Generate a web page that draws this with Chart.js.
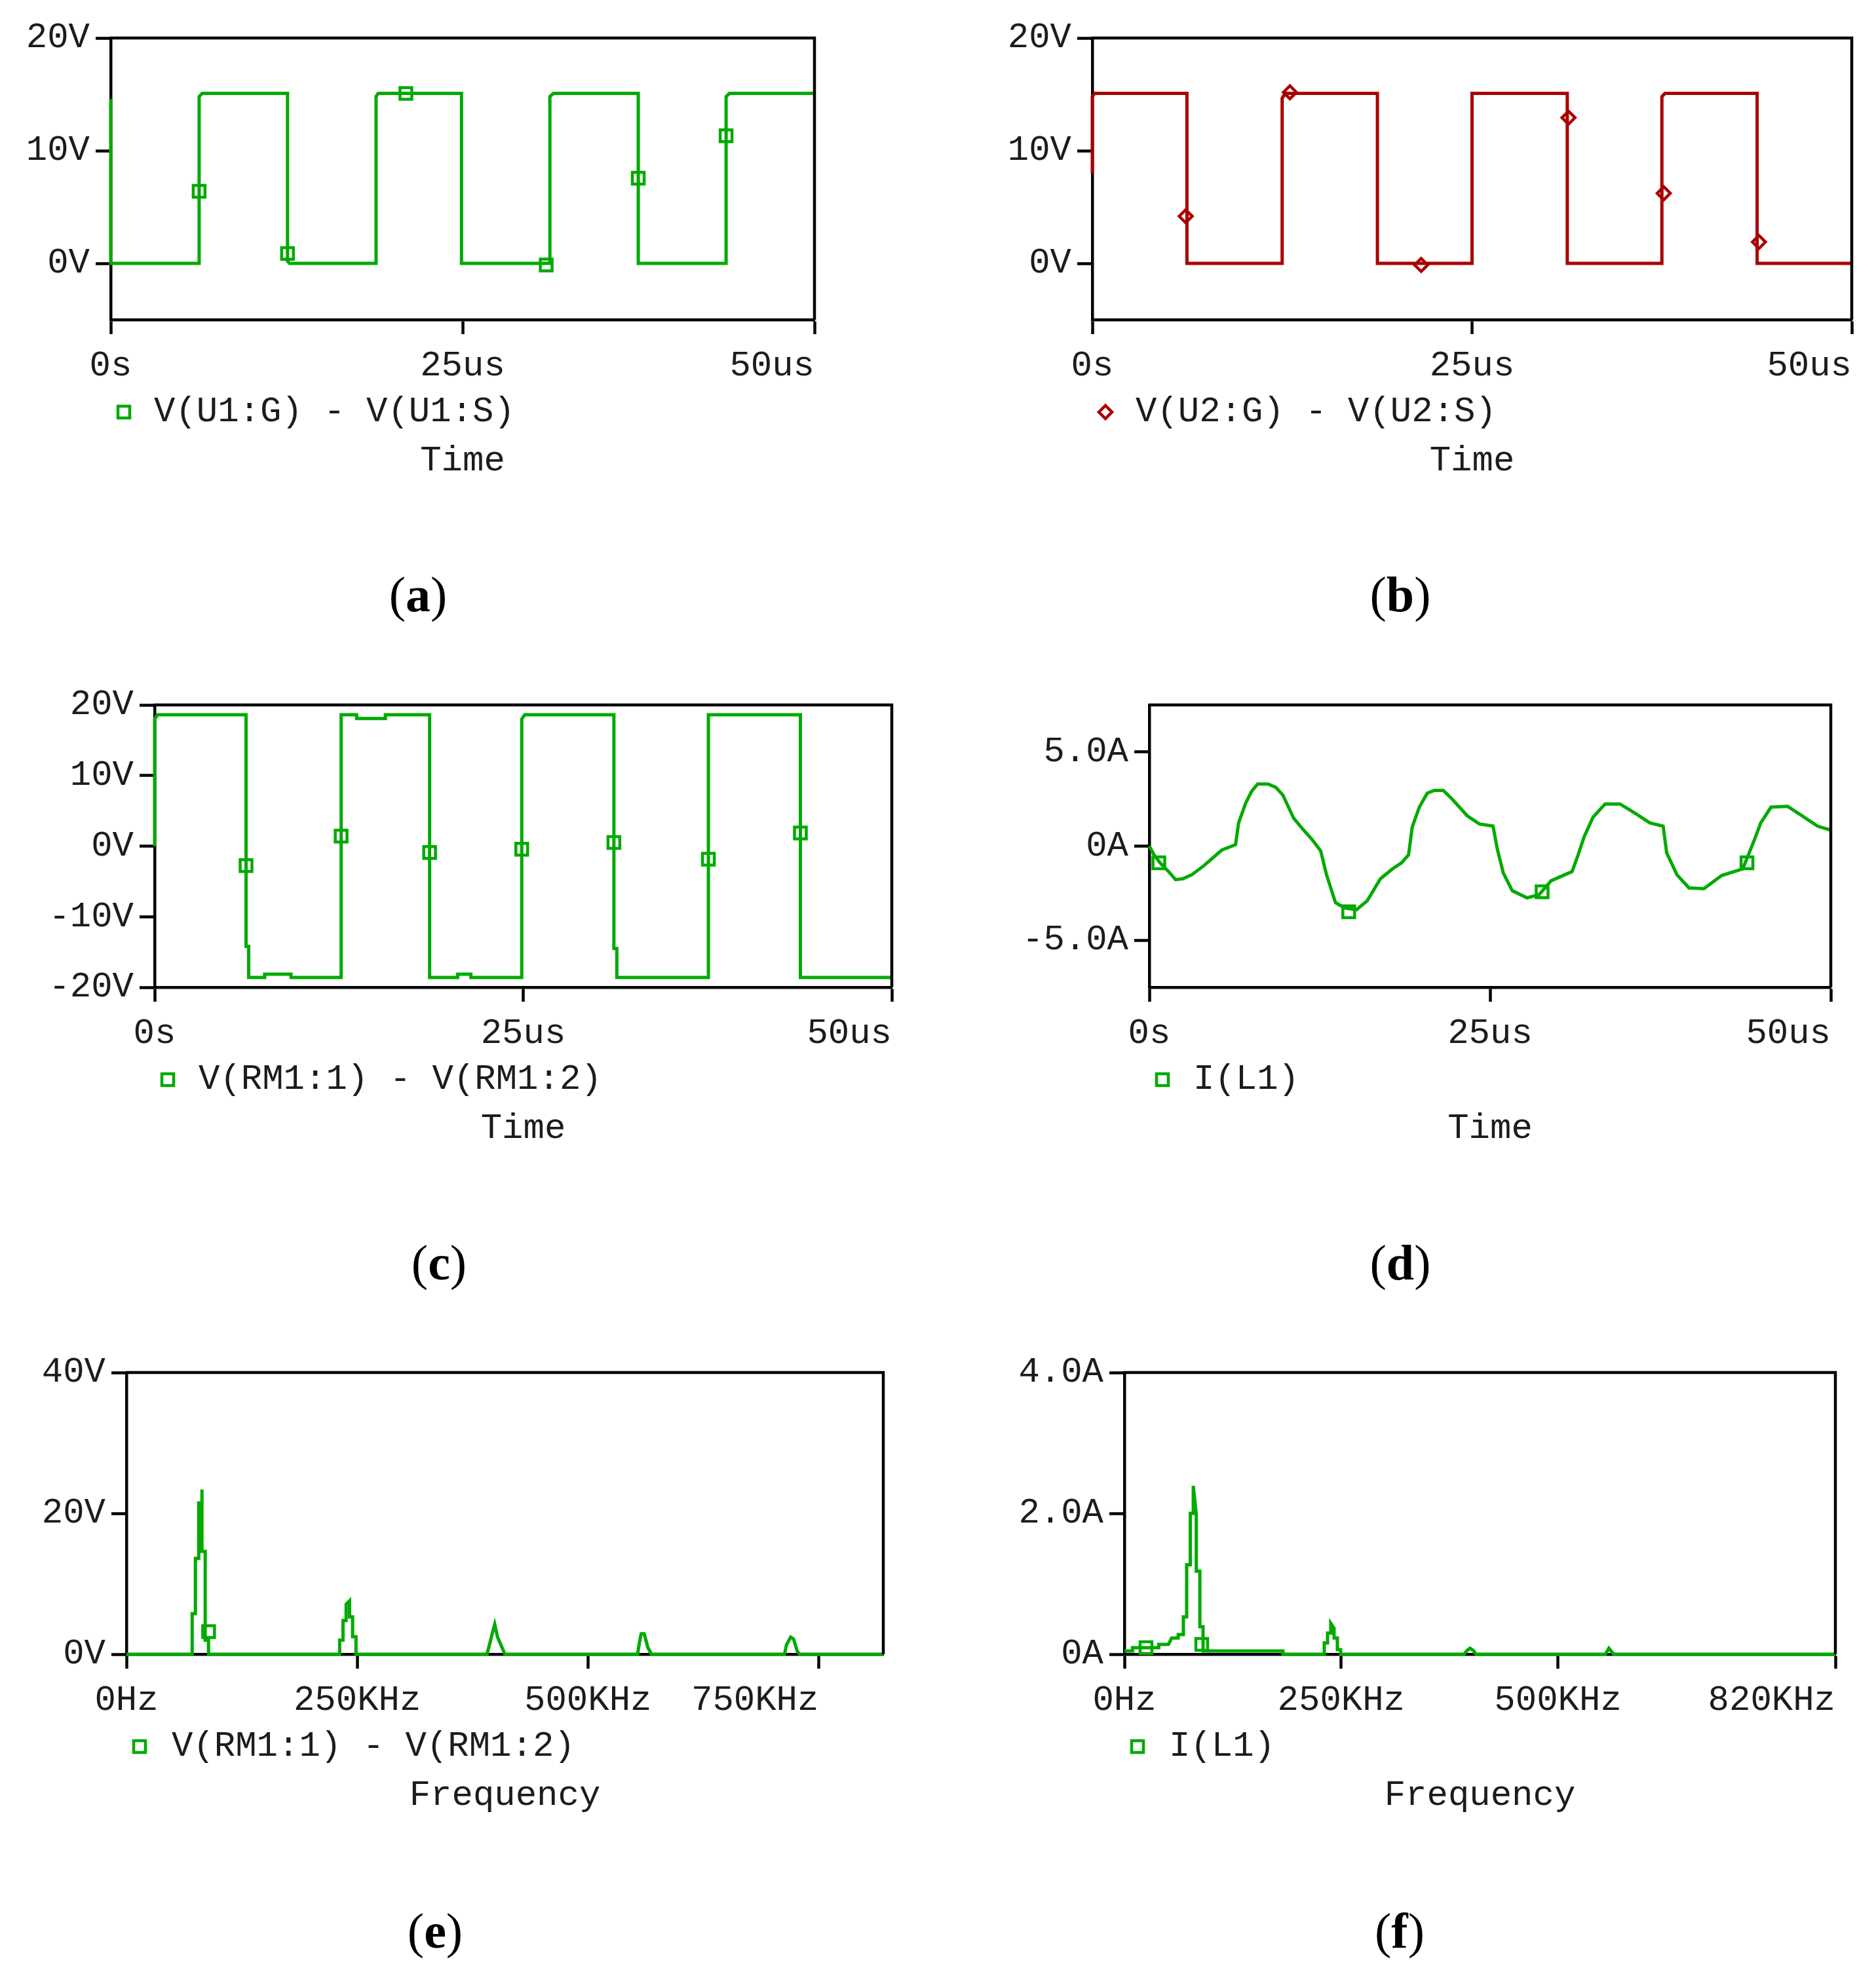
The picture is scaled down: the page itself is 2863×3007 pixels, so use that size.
<!DOCTYPE html>
<html lang="en">

<head>
    <meta charset="UTF-8">
    <title>PSpice waveforms</title>
    <script src="https://cdn.jsdelivr.net/npm/chart.js"></script>
    <style>
        html, body { margin: 0; padding: 0; background: #fff; }
        #page { position: relative; width: 2863px; height: 3007px; overflow: hidden; }
        canvas { position: absolute; }
        .cap {
            position: absolute;
            transform: translate(-50%, -50%);
            font: 76px "Liberation Serif", serif;
            color: #000;
            line-height: 1;
        }
    </style>
</head>

<body>
    <div id="page"></div>

    <script>
        // (a) V(U1:G) - V(U1:S)
        const aTime = [0, 0, 6.28, 6.28, 6.5, 12.56, 12.56, 12.7, 18.85, 18.85, 19, 24.92, 24.92, 31.2, 31.2, 31.45, 37.48, 37.48, 43.72, 43.72, 43.95, 50];
        const aVolt = [14.6, 0, 0, 14.8, 15.08, 15.08, 0.2, 0, 0, 14.8, 15.08, 15.08, 0, 0, 14.8, 15.08, 15.08, 0, 0, 14.8, 15.08, 15.08];
        const aMarkTime = [6.28, 12.56, 20.97, 30.94, 37.48, 43.72];
        const aMarkVolt = [6.4, 0.88, 15.08, -0.14, 7.56, 11.32];

        // (b) V(U2:G) - V(U2:S)
        const bTime = [0, 0, 0.15, 6.23, 6.23, 12.5, 12.5, 12.7, 18.77, 18.77, 25, 25, 31.27, 31.27, 37.5, 37.5, 37.7, 43.77, 43.77, 50];
        const bVolt = [8, 14.8, 15.08, 15.08, 0, 0, 14.66, 15.08, 15.08, 0, 0, 15.08, 15.08, 0, 0, 14.8, 15.08, 15.08, 0, 0];
        const bMarkTime = [6.15, 13.01, 21.65, 31.35, 37.62, 43.89];
        const bMarkVolt = [4.18, 15.18, -0.14, 12.93, 6.22, 1.9];

        // (c) V(RM1:1) - V(RM1:2)
        const cTime = [0, 0, 0.2, 6.2, 6.2, 6.38, 6.38, 7.46, 7.46, 9.25, 9.25, 12.65, 12.65, 13.7, 13.7, 15.65, 15.65, 18.65, 18.65, 20.55, 20.55, 21.45, 21.45, 24.9, 24.9, 25.1, 31.15, 31.15, 31.35, 31.35, 37.56, 37.56, 43.8, 43.8, 50];
        const cVolt = [0, 18, 18.6, 18.6, -14.2, -14.2, -18.6, -18.6, -18.15, -18.15, -18.6, -18.6, 18.6, 18.6, 18.08, 18.08, 18.6, 18.6, -18.6, -18.6, -18.15, -18.15, -18.6, -18.6, 18, 18.6, 18.6, -14.5, -14.5, -18.6, -18.6, 18.6, 18.6, -18.6, -18.6];
        const cMarkTime = [6.2, 12.65, 18.65, 24.9, 31.15, 37.56, 43.8];
        const cMarkVolt = [-2.76, 1.41, -0.9, -0.45, 0.51, -1.86, 1.86];

        // (d) I(L1)
        const dTime = [0, 0.35, 0.79, 1.36, 1.93, 2.46, 3.12, 4, 5.32, 6.33, 6.55, 7.07, 7.51, 7.95, 8.7, 9.27, 9.8, 10.59, 11.25, 11.91, 12.57, 13, 13.66, 14.32, 15.2, 15.99, 16.96, 17.84, 18.5, 19.02, 19.29, 19.81, 20.39, 20.91, 21.57, 22.23, 23.33, 24.21, 25.22, 25.53, 25.97, 26.63, 27.72, 28.6, 29.48, 31.02, 31.46, 31.9, 32.56, 33.44, 34.53, 35.63, 36.73, 37.7, 37.96, 38.71, 39.59, 40.69, 42, 43.54, 44.42, 44.86, 45.61, 46.84, 47.72, 49.03, 50];
        const dAmp = [0, -0.47, -0.89, -1.31, -1.78, -1.73, -1.52, -1.04, -0.21, 0.08, 1.23, 2.28, 2.92, 3.3, 3.3, 3.13, 2.71, 1.48, 0.91, 0.38, -0.25, -1.52, -3, -3.28, -3.38, -2.9, -1.73, -1.21, -0.89, -0.47, 1.01, 2.07, 2.81, 2.96, 2.96, 2.49, 1.61, 1.18, 1.06, -0.15, -1.42, -2.37, -2.75, -2.58, -1.84, -1.35, -0.47, 0.49, 1.54, 2.24, 2.24, 1.75, 1.23, 1.06, -0.36, -1.52, -2.22, -2.26, -1.56, -1.21, 0.38, 1.23, 2.07, 2.11, 1.69, 1.06, 0.85];
        const dMarkTime = [0.7, 14.63, 28.82, 43.85];
        const dMarkAmp = [-0.89, -3.49, -2.43, -0.89];

        // (e) spectrum of V(RM1:1) - V(RM1:2)
        const eFreq = [0, 71.2, 71.2, 74.7, 74.7, 78.3, 78.3, 81.8, 81.8, 81.8, 85.3, 85.3, 88.9, 88.9, 231, 231, 234.6, 234.6, 238, 238, 241.7, 241.7, 245, 245, 248.7, 248.7, 390.6, 393.8, 397, 399, 402, 406.8, 410, 553.8, 555.7, 557.7, 561, 564.8, 568.7, 713, 715, 719.6, 722.8, 726.7, 729.3, 820];
        const eVolt = [0, 0, 5.76, 5.76, 13.6, 13.6, 21.5, 21.5, 23.4, 14.6, 14.6, 2, 2, 0, 0, 2, 2, 4.8, 4.8, 7.1, 7.6, 5.3, 5.3, 2.5, 2.5, 0, 0, 1.6, 3.3, 4.26, 2.44, 1, 0, 0, 1.6, 2.9, 2.9, 1, 0, 0, 1.3, 2.44, 2.16, 0.45, 0, 0];
        const eMarkFreq = [89];
        const eMarkVolt = [3.2];

        // (f) spectrum of I(L1)
        const fFreq = [0, 9.3, 9.3, 39.6, 39.6, 50.8, 54.5, 62, 62, 68, 68, 71.8, 71.8, 76, 76, 79.4, 79.4, 82.9, 82.9, 87, 87, 90.7, 90.7, 182.9, 182.9, 230.5, 230.5, 234.3, 234.3, 238, 238, 241.8, 241.8, 245.6, 245.6, 249.4, 249.4, 391.7, 395, 398.6, 402.7, 405.5, 554.7, 558.8, 564.4, 820];
        const fAmp = [0.047, 0.047, 0.093, 0.093, 0.14, 0.14, 0.23, 0.23, 0.28, 0.28, 0.53, 0.53, 1.27, 1.27, 2, 2, 2.39, 1.98, 1.18, 1.18, 0.39, 0.39, 0.047, 0.047, 0, 0, 0.16, 0.16, 0.3, 0.3, 0.44, 0.37, 0.23, 0.23, 0.065, 0.065, 0, 0, 0.05, 0.085, 0.05, 0, 0, 0.085, 0, 0];
        const fMarkFreq = [24.9, 89.2];
        const fMarkAmp = [0.093, 0.14];

        // axis ticks
        const timeTicks = [0, 25, 50];
        const timeLabels = ['0s', '25us', '50us'];
        const gateTicks = [0, 10, 20];
        const gateLabels = ['0V', '10V', '20V'];
        const rmTicks = [-20, -10, 0, 10, 20];
        const rmLabels = ['-20V', '-10V', '0V', '10V', '20V'];
        const coilTicks = [-5, 0, 5];
        const coilLabels = ['-5.0A', '0A', '5.0A'];
        const eFreqTicks = [0, 250, 500, 750];
        const eFreqLabels = ['0Hz', '250KHz', '500KHz', '750KHz'];
        const fFreqTicks = [0, 250, 500, 820];
        const fFreqLabels = ['0Hz', '250KHz', '500KHz', '820KHz'];
        const eAmpTicks = [0, 20, 40];
        const eAmpLabels = ['0V', '20V', '40V'];
        const fAmpTicks = [0, 2, 4];
        const fAmpLabels = ['0A', '2.0A', '4.0A'];

        const GREEN = '#00aa00';
        const RED = '#aa0000';
        const INK = '#1c1c1c';
        const MONO = '"Liberation Mono", monospace';
        const FONT_SIZE = 54;
        const AXIS_BOX = 270;

        const page = document.getElementById('page');

        // frame, last tick label flush right, and the little legend under the axis
        const panelPlugin = {
            id: 'panel',
            beforeDraw(chart, args, opts) {
                const items = chart.scales.x.getLabelItems(chart.chartArea);
                items[items.length - 1].options.textAlign = 'right';
            },
            afterDatasetsDraw(chart, args, opts) {
                const { ctx, chartArea } = chart;
                ctx.save();
                ctx.strokeStyle = '#000';
                ctx.lineWidth = 4.5;
                ctx.beginPath();
                ctx.moveTo(chartArea.left, chartArea.top);
                ctx.lineTo(chartArea.right, chartArea.top);
                ctx.lineTo(chartArea.right, chartArea.bottom);
                ctx.stroke();
                ctx.restore();
            },
            afterDraw(chart, args, opts) {
                const { ctx, chartArea } = chart;
                const y = chartArea.bottom + opts.legendDy;
                ctx.save();
                ctx.strokeStyle = opts.color;
                ctx.fillStyle = 'rgba(0,0,0,0)';
                ctx.lineWidth = 4.5;
                Chart.helpers.drawPoint(ctx, { pointStyle: opts.marker, radius: opts.markerSize, borderWidth: 4.5, rotation: 0 }, chartArea.left + 20, y);
                ctx.fillStyle = INK;
                ctx.font = FONT_SIZE + 'px ' + MONO;
                ctx.textBaseline = 'middle';
                ctx.textAlign = 'left';
                ctx.fillText(opts.text, chartArea.left + opts.textDx, y);
                ctx.restore();
            }
        };

        function pairs(xs, ys) {
            return xs.map((x, i) => ({ x: x, y: ys[i] }));
        }

        function makePanel(p) {
            const canvas = document.createElement('canvas');
            canvas.width = p.cw;
            canvas.height = p.bottom - p.cy + AXIS_BOX;
            canvas.style.left = p.cx + 'px';
            canvas.style.top = p.cy + 'px';
            page.appendChild(canvas);

            const cap = document.createElement('div');
            cap.className = 'cap';
            cap.innerHTML = '(<b>' + p.letter + '</b>)';
            cap.style.left = p.capX + 'px';
            cap.style.top = p.capY + 'px';
            page.appendChild(cap);

            new Chart(canvas.getContext('2d'), {
                type: 'line',
                plugins: [panelPlugin],
                data: {
                    datasets: [
                        {
                            data: pairs(p.xs, p.ys),
                            borderColor: p.color,
                            borderWidth: 5,
                            borderJoinStyle: 'miter',
                            tension: 0,
                            pointRadius: 0,
                            clip: false,
                            order: 2
                        },
                        {
                            data: pairs(p.markXs, p.markYs),
                            showLine: false,
                            pointStyle: p.marker,
                            pointRadius: p.markerSize,
                            pointBorderWidth: 4.5,
                            pointBorderColor: p.color,
                            pointBackgroundColor: 'rgba(0,0,0,0)',
                            clip: false,
                            order: 1
                        }
                    ]
                },
                options: {
                    responsive: false,
                    animation: false,
                    devicePixelRatio: 1,
                    layout: { padding: { left: 0, top: p.top - p.cy, right: p.cx + p.cw - p.right, bottom: 0 } },
                    plugins: {
                        legend: { display: false },
                        tooltip: { enabled: false },
                        panel: { text: p.legend, color: p.color, marker: p.marker, markerSize: p.markerSize, legendDy: 141, textDx: p.textDx }
                    },
                    scales: {
                        x: {
                            type: 'linear',
                            min: p.xMin,
                            max: p.xMax,
                            afterBuildTicks: s => { s.ticks = p.xTicks.map(v => ({ value: v })); },
                            afterFit: s => { s.height = AXIS_BOX; s.paddingLeft = 0; s.paddingRight = 0; },
                            grid: { drawOnChartArea: false, color: '#000', tickLength: 22, tickWidth: 4.5, tickColor: '#000' },
                            border: { color: '#000', width: 4.5 },
                            ticks: {
                                autoSkip: false,
                                maxRotation: 0,
                                padding: 16,
                                color: INK,
                                font: { family: MONO, size: FONT_SIZE, lineHeight: 1.2 },
                                callback: (v, i) => p.xLabels[i]
                            },
                            title: {
                                display: true,
                                text: p.xTitle,
                                color: INK,
                                font: { family: MONO, size: FONT_SIZE, lineHeight: 1.2 },
                                padding: { top: 0, bottom: AXIS_BOX - 32 - 216 }
                            }
                        },
                        y: {
                            type: 'linear',
                            min: p.yMin,
                            max: p.yMax,
                            afterBuildTicks: s => { s.ticks = p.yTicks.map(v => ({ value: v })); },
                            afterFit: s => { s.width = p.left - p.cx; s.paddingTop = 0; s.paddingBottom = 0; },
                            grid: { drawOnChartArea: false, color: '#000', tickLength: 23, tickWidth: 4.5, tickColor: '#000' },
                            border: { color: '#000', width: 4.5 },
                            ticks: {
                                autoSkip: false,
                                padding: 9,
                                color: INK,
                                font: { family: MONO, size: FONT_SIZE, lineHeight: 1.2 },
                                callback: (v, i) => p.yLabels[i]
                            }
                        }
                    }
                }
            });
        }

        makePanel({
            letter: 'a', cx: 0, cy: 0, cw: 1430, left: 169, right: 1243, top: 58, bottom: 488, capX: 638, capY: 907,
            xs: aTime, ys: aVolt, markXs: aMarkTime, markYs: aMarkVolt, color: GREEN, marker: 'rect', markerSize: 12.7,
            xMin: 0, xMax: 50, yMin: -5, yMax: 20, xTicks: timeTicks, xLabels: timeLabels, yTicks: gateTicks, yLabels: gateLabels,
            legend: 'V(U1:G) - V(U1:S)', textDx: 66, xTitle: 'Time'
        });
        makePanel({
            letter: 'b', cx: 1430, cy: 0, cw: 1433, left: 1667, right: 2826, top: 58, bottom: 488, capX: 2137, capY: 907,
            xs: bTime, ys: bVolt, markXs: bMarkTime, markYs: bMarkVolt, color: RED, marker: 'rectRot', markerSize: 10,
            xMin: 0, xMax: 50, yMin: -5, yMax: 20, xTicks: timeTicks, xLabels: timeLabels, yTicks: gateTicks, yLabels: gateLabels,
            legend: 'V(U2:G) - V(U2:S)', textDx: 66, xTitle: 'Time'
        });
        makePanel({
            letter: 'c', cx: 0, cy: 1020, cw: 1430, left: 236, right: 1361, top: 1076, bottom: 1507, capX: 670, capY: 1927,
            xs: cTime, ys: cVolt, markXs: cMarkTime, markYs: cMarkVolt, color: GREEN, marker: 'rect', markerSize: 12.7,
            xMin: 0, xMax: 50, yMin: -20, yMax: 20, xTicks: timeTicks, xLabels: timeLabels, yTicks: rmTicks, yLabels: rmLabels,
            legend: 'V(RM1:1) - V(RM1:2)', textDx: 67, xTitle: 'Time'
        });
        makePanel({
            letter: 'd', cx: 1430, cy: 1020, cw: 1433, left: 1754, right: 2794, top: 1076, bottom: 1507, capX: 2137, capY: 1927,
            xs: dTime, ys: dAmp, markXs: dMarkTime, markYs: dMarkAmp, color: GREEN, marker: 'rect', markerSize: 12.7,
            xMin: 0, xMax: 50, yMin: -7.5, yMax: 7.5, xTicks: timeTicks, xLabels: timeLabels, yTicks: coilTicks, yLabels: coilLabels,
            legend: 'I(L1)', textDx: 67, xTitle: 'Time'
        });
        makePanel({
            letter: 'e', cx: 0, cy: 2050, cw: 1430, left: 193, right: 1348, top: 2095, bottom: 2525, capX: 664, capY: 2947,
            xs: eFreq, ys: eVolt, markXs: eMarkFreq, markYs: eMarkVolt, color: GREEN, marker: 'rect', markerSize: 12.7,
            xMin: 0, xMax: 820, yMin: 0, yMax: 40, xTicks: eFreqTicks, xLabels: eFreqLabels, yTicks: eAmpTicks, yLabels: eAmpLabels,
            legend: 'V(RM1:1) - V(RM1:2)', textDx: 69, xTitle: 'Frequency'
        });
        makePanel({
            letter: 'f', cx: 1430, cy: 2050, cw: 1433, left: 1716, right: 2801, top: 2095, bottom: 2525, capX: 2136, capY: 2947,
            xs: fFreq, ys: fAmp, markXs: fMarkFreq, markYs: fMarkAmp, color: GREEN, marker: 'rect', markerSize: 12.7,
            xMin: 0, xMax: 820, yMin: 0, yMax: 4, xTicks: fFreqTicks, xLabels: fFreqLabels, yTicks: fAmpTicks, yLabels: fAmpLabels,
            legend: 'I(L1)', textDx: 68, xTitle: 'Frequency'
        });
    </script>
</body>

</html>
